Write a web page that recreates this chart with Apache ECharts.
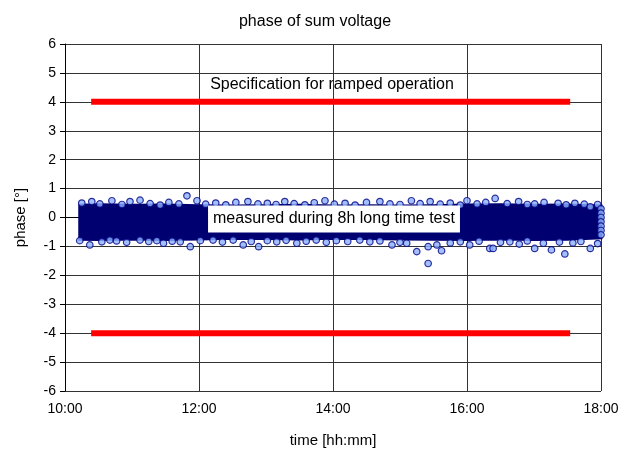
<!DOCTYPE html>
<html>
<head>
<meta charset="utf-8">
<script src="https://cdn.jsdelivr.net/npm/echarts@6/dist/echarts.min.js"></script>
<style>
  html, body { margin: 0; padding: 0; background: #fff; }
  #main { width: 630px; height: 453px; }
</style>
</head>
<body>
<div id="main"></div>
<script>
// time in hours (10.5 = 10:30), phase in degrees
var xTicks = [10, 12, 14, 16, 18];

// dense core of the measured band (upper / lower envelope)
var coreT    = [10.22, 10.5, 11, 11.5, 12, 12.5, 13, 13.5, 14, 14.5, 15, 15.5, 16, 16.5, 17, 17.5, 18.0];
var coreHigh = [0.42, 0.44, 0.42, 0.43, 0.41, 0.40, 0.41, 0.42, 0.40, 0.41, 0.40, 0.41, 0.43, 0.44, 0.42, 0.43, 0.40];
var coreLow  = [-0.75, -0.76, -0.74, -0.76, -0.74, -0.72, -0.73, -0.74, -0.72, -0.73, -0.74, -0.75, -0.76, -0.74, -0.76, -0.75, -0.70];

// single points visible along the upper edge
var topT = [10.25, 10.40, 10.52, 10.70, 10.85, 10.97, 11.12, 11.27, 11.42, 11.55, 11.70, 11.82, 11.97, 12.10, 12.25,
            12.40, 12.55, 12.73, 12.88, 13.02, 13.15, 13.28, 13.42, 13.58, 13.72, 13.88, 14.02, 14.18, 14.33, 14.50,
            14.70, 14.85, 15.00, 15.17, 15.30, 15.45, 15.60, 15.75, 15.90, 16.00, 16.15, 16.28, 16.42, 16.60, 16.77,
            16.90, 17.01, 17.15, 17.36, 17.48, 17.61, 17.75, 17.84, 17.95];
var topV = [0.50, 0.55, 0.47, 0.58, 0.45, 0.55, 0.60, 0.48, 0.43, 0.52, 0.47, 0.75, 0.58, 0.46, 0.50,
            0.44, 0.52, 0.55, 0.47, 0.49, 0.45, 0.55, 0.48, 0.44, 0.51, 0.58, 0.46, 0.49, 0.43, 0.52,
            0.55, 0.47, 0.45, 0.58, 0.48, 0.55, 0.46, 0.50, 0.43, 0.58, 0.47, 0.52, 0.66, 0.48, 0.55,
            0.45, 0.47, 0.52, 0.49, 0.44, 0.49, 0.46, 0.37, 0.45];

// single points visible along the lower edge
var botT = [10.22, 10.37, 10.55, 10.67, 10.77, 10.92, 11.12, 11.25, 11.37, 11.47, 11.60, 11.72, 11.87, 12.02, 12.21,
            12.35, 12.51, 12.66, 12.78, 12.89, 13.02, 13.16, 13.30, 13.46, 13.60, 13.75, 13.90, 14.05, 14.22, 14.40,
            14.55, 14.70, 14.88, 15.00, 15.10, 15.25, 15.42, 15.42, 15.55, 15.62, 15.75, 15.90, 16.04, 16.18, 16.34,
            16.39, 16.50, 16.64, 16.78, 16.90, 17.01, 17.14, 17.26, 17.38, 17.46, 17.58, 17.70, 17.84, 17.95];
var botV = [-0.80, -0.95, -0.84, -0.78, -0.81, -0.86, -0.78, -0.83, -0.80, -0.89, -0.82, -0.84, -1.01, -0.80, -0.78,
            -0.85, -0.78, -0.95, -0.83, -1.01, -0.80, -0.84, -0.79, -0.89, -0.82, -0.78, -0.86, -0.80, -0.83, -0.78,
            -0.84, -0.81, -0.95, -0.86, -0.89, -1.18, -1.59, -1.01, -0.95, -1.15, -0.88, -0.84, -0.95, -0.82, -1.07,
            -1.07, -0.86, -0.84, -0.92, -0.81, -1.07, -0.89, -1.12, -0.85, -1.26, -0.88, -0.83, -1.07, -0.90];

// last column of points at the right end
var endT = [18.0, 18.0, 18.0, 18.0, 18.0, 18.0, 18.0];
var endV = [0.30, 0.15, 0.0, -0.15, -0.30, -0.45, -0.60];

// specification limits
var specT = [10.39, 17.54];
var specHigh = [4, 4];
var specLow = [-4, -4];

function pairs(xs, ys) {
  return xs.map(function (x, i) { return [x, ys[i]]; });
}

var dotStyle = { color: '#8bb0ff', borderColor: '#000080', borderWidth: 1.2 };
var font = 'Liberation Sans, Arial, sans-serif';

// the dense band: one polygon, upper envelope forward, lower envelope back
function renderCore(params, api) {
  if (params.dataIndex !== 0) return null;
  var pts = [];
  coreT.forEach(function (t, i) { pts.push(api.coord([t, coreHigh[i]])); });
  for (var i = coreT.length - 1; i >= 0; i--) pts.push(api.coord([coreT[i], coreLow[i]]));
  return {
    type: 'polygon',
    shape: { points: pts },
    style: { fill: '#000070', stroke: '#000070', lineWidth: 3 }
  };
}

var chart = echarts.init(document.getElementById('main'));
chart.setOption({
  animation: false,
  backgroundColor: '#fff',
  title: {
    text: 'phase of sum voltage',
    left: 'center', top: 9,
    textStyle: { fontSize: 16, fontWeight: 'normal', color: '#000', fontFamily: font }
  },
  grid: { left: 65, right: 29, top: 44, bottom: 62 },
  xAxis: {
    type: 'value', min: 10, max: 18, interval: 2,
    name: 'time [hh:mm]', nameLocation: 'middle', nameGap: 42,
    nameTextStyle: { fontSize: 15, color: '#000', fontFamily: font },
    axisLine: { show: true, lineStyle: { color: '#000' } },
    axisTick: { show: true, length: 5, lineStyle: { color: '#000' } },
    axisLabel: {
      fontSize: 14, color: '#000', fontFamily: font, margin: 11,
      formatter: function (v) { return v + ':00'; }
    },
    splitLine: { show: true, lineStyle: { color: '#333', width: 1 } }
  },
  yAxis: {
    type: 'value', min: -6, max: 6, interval: 1,
    name: 'phase [°]', nameLocation: 'middle', nameGap: 37,
    nameTextStyle: { fontSize: 15, color: '#000', fontFamily: font },
    axisLine: { show: true, lineStyle: { color: '#000' } },
    axisTick: { show: true, length: 5, lineStyle: { color: '#000' } },
    axisLabel: { fontSize: 14, color: '#000', fontFamily: font, margin: 9 },
    splitLine: { show: true, lineStyle: { color: '#333', width: 1 } }
  },
  series: [
    {
      type: 'custom', silent: true,
      data: pairs(coreT, coreHigh),
      renderItem: renderCore
    },
    {
      type: 'scatter', symbolSize: 6.5, itemStyle: dotStyle,
      data: pairs(topT, topV)
    },
    {
      type: 'scatter', symbolSize: 6.5, itemStyle: dotStyle,
      data: pairs(botT, botV)
    },
    {
      type: 'scatter', symbolSize: 6.5, itemStyle: dotStyle,
      data: pairs(endT, endV)
    },
    {
      type: 'line', symbol: 'none', data: pairs(specT, specHigh),
      lineStyle: { color: '#ff0000', width: 6, cap: 'butt' }
    },
    {
      type: 'line', symbol: 'none', data: pairs(specT, specLow),
      lineStyle: { color: '#ff0000', width: 6, cap: 'butt' }
    }
  ],
  graphic: [
    {
      type: 'text', x: 332, y: 85, z: 100,
      style: {
        text: 'Specification for ramped operation',
        fontSize: 16, fontFamily: font, fill: '#000',
        align: 'center', verticalAlign: 'middle'
      }
    },
    {
      type: 'text', x: 334, y: 219, z: 100,
      style: {
        text: 'measured during 8h long time test',
        fontSize: 16, fontFamily: font, fill: '#000',
        align: 'center', verticalAlign: 'middle',
        backgroundColor: '#fff', padding: [6, 5, 5, 5]
      }
    }
  ]
});
</script>
</body>
</html>
